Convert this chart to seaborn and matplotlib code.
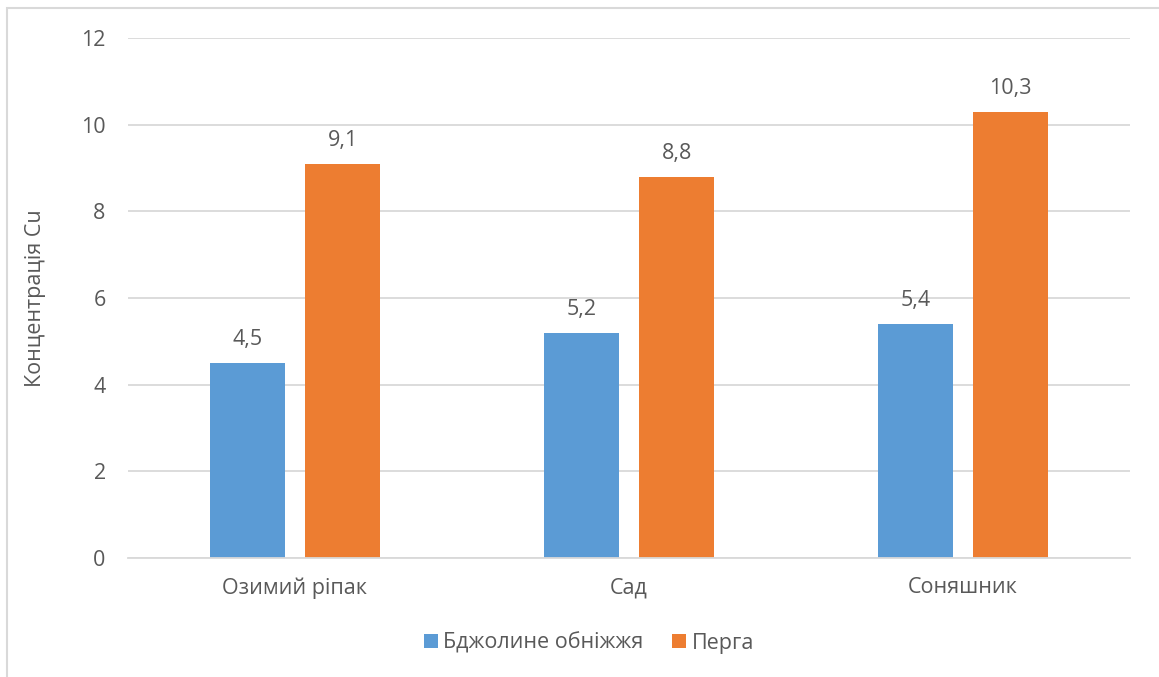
import matplotlib
matplotlib.use("Agg")
import matplotlib.pyplot as plt
import seaborn as sns
import pandas as pd
from matplotlib.patches import Rectangle

categories = ["Озимий ріпак", "Сад", "Соняшник"]
series_names = ["Бджолине обніжжя", "Перга"]
pollen = [4.5, 5.2, 5.4]
perga = [9.1, 8.8, 10.3]
y_ticks = [0, 2, 4, 6, 8, 10, 12]

df = pd.DataFrame({
    "category": categories * 2,
    "series": [series_names[0]] * 3 + [series_names[1]] * 3,
    "value": pollen + perga,
})

sns.set_theme(style="white")
plt.rcParams["font.family"] = ["Open Sans", "DejaVu Sans"]
text_color = "#595959"
grid_color = "#D9D9D9"
palette = {series_names[0]: "#5B9BD5", series_names[1]: "#ED7D31"}
fs = 15.5

fig = plt.figure(figsize=(11.59, 6.77), dpi=100)
ax = fig.add_axes([0.1104, 0.1758, 0.8646, 0.7681])

sns.barplot(data=df, x="category", y="value", hue="series", palette=palette,
            width=0.57, gap=0.21, saturation=1, ax=ax, legend=True,
            edgecolor="none")

ax.set_ylim(0, 12)
ax.set_yticks(y_ticks)
ax.set_yticklabels([str(t) for t in y_ticks])
ax.yaxis.grid(True, color=grid_color, linewidth=1.3)
ax.set_axisbelow(True)
for s in ["top", "right", "left"]:
    ax.spines[s].set_visible(False)
ax.spines["bottom"].set_color(grid_color)
ax.spines["bottom"].set_linewidth(1.3)
ax.tick_params(axis="both", length=0, labelsize=fs, colors=text_color)
ax.tick_params(axis="y", pad=16)
ax.tick_params(axis="x", pad=14)
ax.set_xlabel("")
ax.set_ylabel("Концентрація Cu", fontsize=fs, color=text_color)
ax.yaxis.set_label_coords(-0.082, 0.5)

for container in ax.containers:
    ax.bar_label(container, labels=[f"{v:.1f}".replace(".", ",") for v in container.datavalues],
                 padding=9, fontsize=fs, color=text_color)

handles, labels = ax.get_legend_handles_labels()
ax.get_legend().remove()
fig.legend(handles, labels, loc="center", bbox_to_anchor=(0.508, 0.05), ncol=2,
           frameon=False, fontsize=fs, labelcolor=text_color,
           handlelength=0.64, handleheight=0.64, handletextpad=0.25,
           columnspacing=1.35)

# Chart area outline
fig.patches.append(Rectangle((7 / 1159, -0.1), 1.2, 1 - 8 / 677 + 0.1,
                             transform=fig.transFigure, fill=False,
                             edgecolor="#D9D9D9", linewidth=1.5))

fig.savefig("out.png", dpi=100)
